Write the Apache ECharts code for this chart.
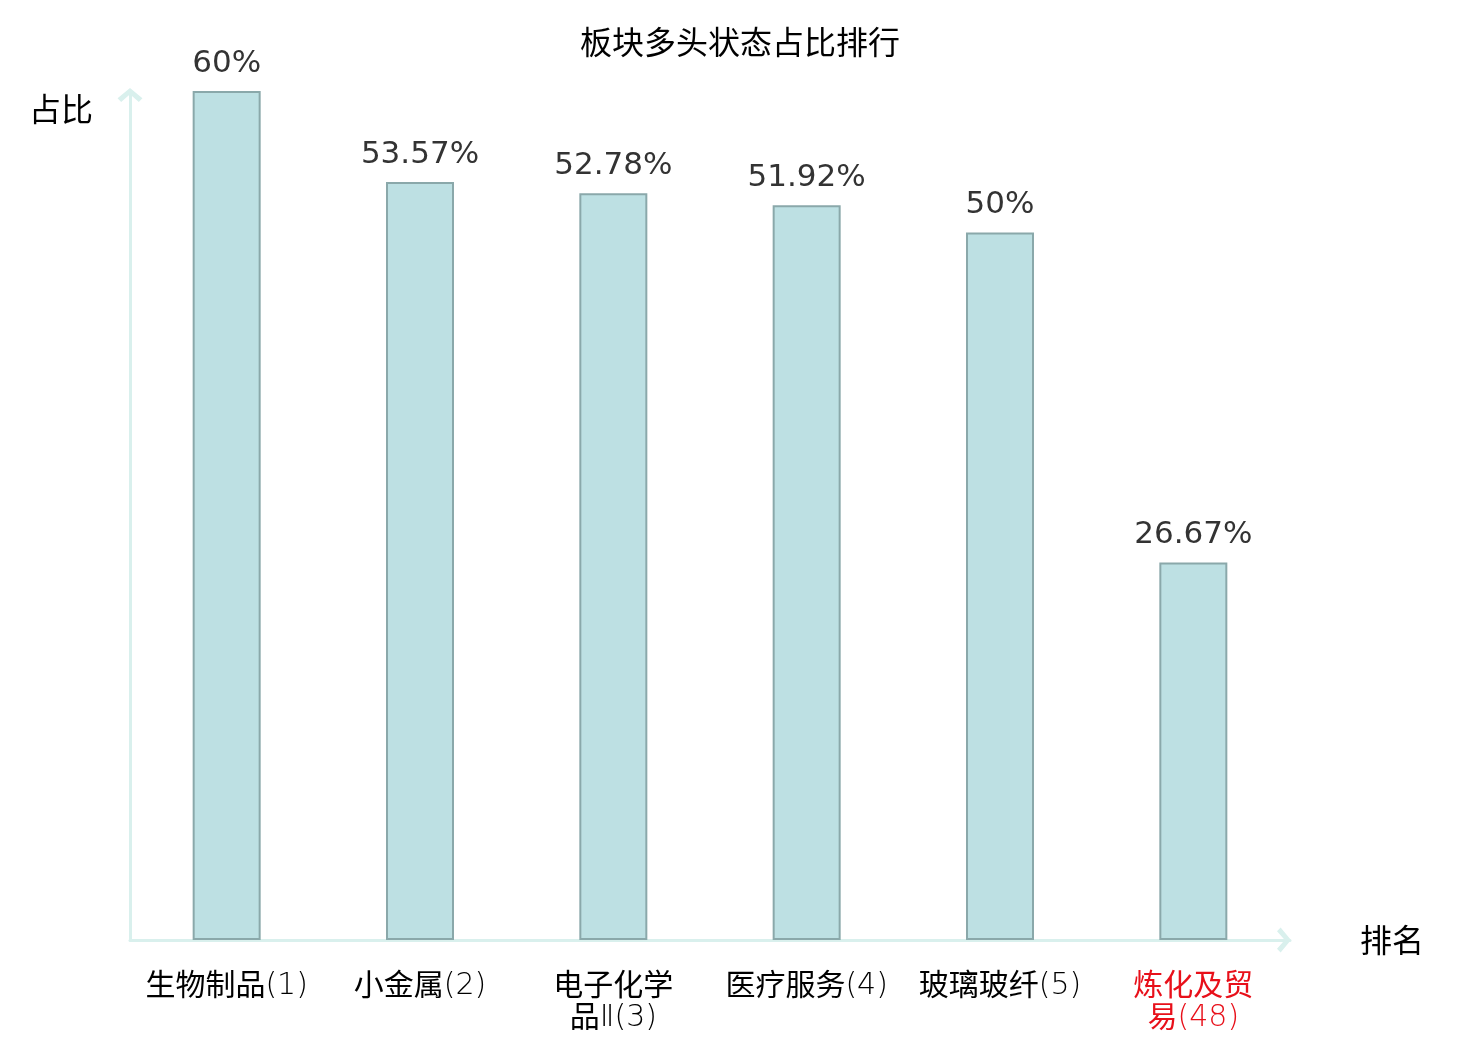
<!DOCTYPE html>
<html>
<head>
<meta charset="utf-8">
<script src="https://cdn.jsdelivr.net/npm/echarts@6/dist/echarts.min.js"></script>
<style>
  html, body {margin: 0; padding: 0; background: #fff;}
  #main {width: 1480px; height: 1040px;}
</style>
</head>
<body>
<div id="main"></div>
<script>
// 板块名称与排名
const sectors = ['生物制品', '小金属', '电子化学品Ⅱ', '医疗服务', '玻璃玻纤', '炼化及贸易'];
const ranks = [1, 2, 3, 4, 5, 48];
// 多头状态占比 (%)
const ratios = [60, 53.57, 52.78, 51.92, 50, 26.67];

const categories = sectors.map((s, i) => s + '(' + ranks[i] + ')');

// 名称超过4个字就换行, 汉字和数字分开样式
function wrapName(v) {
    let p = v.indexOf('(');
    let name = v.slice(0, p);
    let tail = '{l|' + v.slice(p) + '}';
    if (name.length > 4) {
        let rest = name.slice(4);
        let restCjk = rest.replace(/Ⅱ/g, '');
        let restLat = rest.slice(restCjk.length);
        return '{c|' + name.slice(0, 4) + '}\n{c|' + restCjk + '}{l|' + restLat + '}' + tail;
    }
    return '{c|' + name + '}' + tail;
}

const axisColor = '#d9f0ed';
const chevron = 'path://M12,0 L24,10 L20.5,13.5 L12,6 L3.5,13.5 L0,10 Z';

let myChart = echarts.init(document.getElementById('main'));
myChart.setOption({
    animation: false,
    title: {
        text: '板块多头状态占比排行',
        left: 'center',
        top: 21,
        textStyle: {fontSize: 32, fontWeight: 'normal', color: '#000', fontFamily: 'Noto Sans CJK SC'}
    },
    grid: {left: 130, right: 190, top: 91, bottom: 100},
    xAxis: {
        type: 'category',
        data: categories,
        name: '排名',
        nameGap: 70,
        nameTextStyle: {fontSize: 32, color: '#000', fontFamily: 'Noto Sans CJK SC'},
        axisLine: {
            lineStyle: {color: axisColor, width: 3},
            symbol: ['none', chevron],
            symbolSize: [26, 14],
            symbolOffset: [0, -6]
        },
        axisTick: {show: false},
        axisLabel: {
            interval: 0,
            margin: 28,
            fontSize: 30,
            lineHeight: 32,
            color: function (v, i) { return i === categories.length - 1 ? '#e8101a' : '#000'; },
            formatter: wrapName,
            rich: {
                c: {fontSize: 30, lineHeight: 32, fontFamily: 'Noto Sans CJK SC'},
                l: {fontSize: 30, lineHeight: 32, fontWeight: 200, fontFamily: 'DejaVu Sans', padding: [5, 0, 0, 0]}
            }
        }
    },
    yAxis: {
        type: 'value',
        min: 0,
        max: 60,
        name: '占比',
        nameGap: -2,
        nameTextStyle: {
            fontSize: 32, color: '#000', fontFamily: 'Noto Sans CJK SC',
            align: 'right', verticalAlign: 'top', padding: [0, 37, 0, 0]
        },
        axisLine: {
            show: true,
            lineStyle: {color: axisColor, width: 3},
            symbol: ['none', chevron],
            symbolSize: [26, 14],
            symbolOffset: [0, -4]
        },
        axisTick: {show: false},
        axisLabel: {show: false},
        splitLine: {show: false}
    },
    series: [{
        type: 'bar',
        data: ratios,
        barWidth: 68,
        itemStyle: {color: '#bde0e3', borderColor: '#8aa8aa', borderWidth: 2},
        label: {
            show: true,
            position: 'top',
            distance: 12,
            fontSize: 31,
            color: '#333',
            fontFamily: 'DejaVu Sans',
            formatter: function (p) { return p.value + '%'; }
        }
    }]
});
</script>
</body>
</html>
